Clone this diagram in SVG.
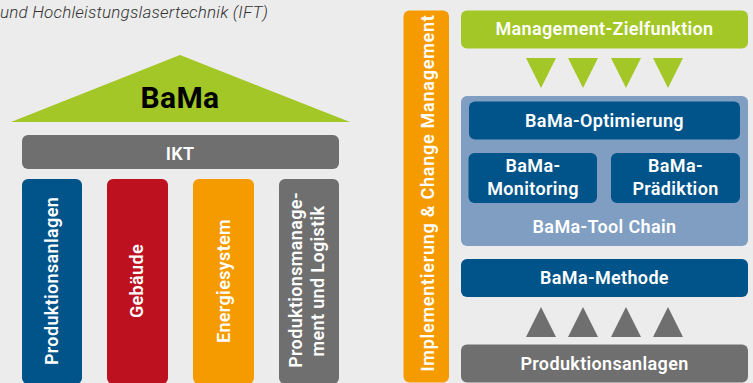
<svg xmlns="http://www.w3.org/2000/svg" width="753" height="383" viewBox="0 0 753 383">
<style>
text{font-family:Roboto,"Liberation Sans",sans-serif;font-weight:600;fill:#fff;text-anchor:middle;letter-spacing:.35px}
.l{font-size:18px}
.cap{font-size:17px;font-weight:300;font-style:italic;fill:#333;text-anchor:start;letter-spacing:.2px}
.b{fill:#00548a}.g{fill:#6f6f6f}.o{fill:#f59b00}.r{fill:#be111f}.y{fill:#a2c726}.s{fill:#7f9ec2}
</style>
<rect width="753" height="383" fill="#ececec"/>
<text class="cap" x="0" y="17.500">und Hochleistungslasertechnik (IFT)</text>
<g id="roof"><polygon class="y" points="180,55 350,122 11,122"/><text x="180" y="108" font-size="30" style="fill:#000;font-weight:700">BaMa</text></g>
<g id="ikt"><rect class="g" x="22" y="135" width="317" height="34" rx="6"/><text class="l" x="180" y="160">IKT</text></g>
<g id="p1"><rect class="b" x="22" y="179" width="60" height="205" rx="6"/><text class="l" transform="translate(57.500 281) rotate(-90)">Produktionsanlagen</text></g>
<g id="p2"><rect class="r" x="107" y="179" width="61" height="205" rx="6"/><text class="l" transform="translate(143 281) rotate(-90)">Gebäude</text></g>
<g id="p3"><rect class="o" x="193" y="179" width="61" height="205" rx="6"/><text class="l" transform="translate(229.500 281) rotate(-90)">Energiesystem</text></g>
<g id="p4"><rect class="g" x="279" y="179" width="60" height="205" rx="6"/><text class="l" transform="translate(301.500 280) rotate(-90)">Produktionsmanage-</text><text class="l" transform="translate(323.500 281) rotate(-90)">ment und Logistik</text></g>
<g id="impl"><rect class="o" x="403.500" y="10.500" width="45.500" height="372" rx="6"/><text class="l" style="letter-spacing:.75px" transform="translate(433.500 193) rotate(-90)">Implementierung &amp; Change Management</text></g>
<g id="ziel"><rect class="y" x="461" y="10.500" width="287" height="38" rx="6"/><text class="l" x="604.500" y="35">Management-Zielfunktion</text></g>
<g id="arrows-down"><polygon class="y" points="526,58 556,58 541,88"/><polygon class="y" points="568,58 598,58 583,88"/><polygon class="y" points="611,58 641,58 626,88"/><polygon class="y" points="653,58 683,58 668,88"/></g>
<g id="chain"><rect class="s" x="461" y="96" width="287" height="150" rx="6"/><text class="l" x="604.500" y="233">BaMa-Tool Chain</text></g>
<g id="opt"><rect class="b" x="469" y="101.500" width="271" height="38" rx="6"/><text class="l" x="604.500" y="127">BaMa-Optimierung</text></g>
<g id="mon"><rect class="b" x="468.500" y="153" width="128.500" height="50" rx="6"/><text class="l" x="533" y="172">BaMa-</text><text class="l" x="533" y="195">Monitoring</text></g>
<g id="pra"><rect class="b" x="611" y="153" width="129" height="50" rx="6"/><text class="l" x="675.500" y="172">BaMa-</text><text class="l" x="675.500" y="195">Prädiktion</text></g>
<g id="methode"><rect class="b" x="461" y="259" width="287" height="38" rx="6"/><text class="l" x="604.500" y="284">BaMa-Methode</text></g>
<g id="arrows-up"><polygon class="g" points="541,307 556,337 526,337"/><polygon class="g" points="583,307 598,337 568,337"/><polygon class="g" points="626,307 641,337 611,337"/><polygon class="g" points="668,307 683,337 653,337"/></g>
<g id="prod"><rect class="g" x="461" y="344.500" width="287" height="38" rx="6"/><text class="l" x="604.500" y="370">Produktionsanlagen</text></g>
</svg>
